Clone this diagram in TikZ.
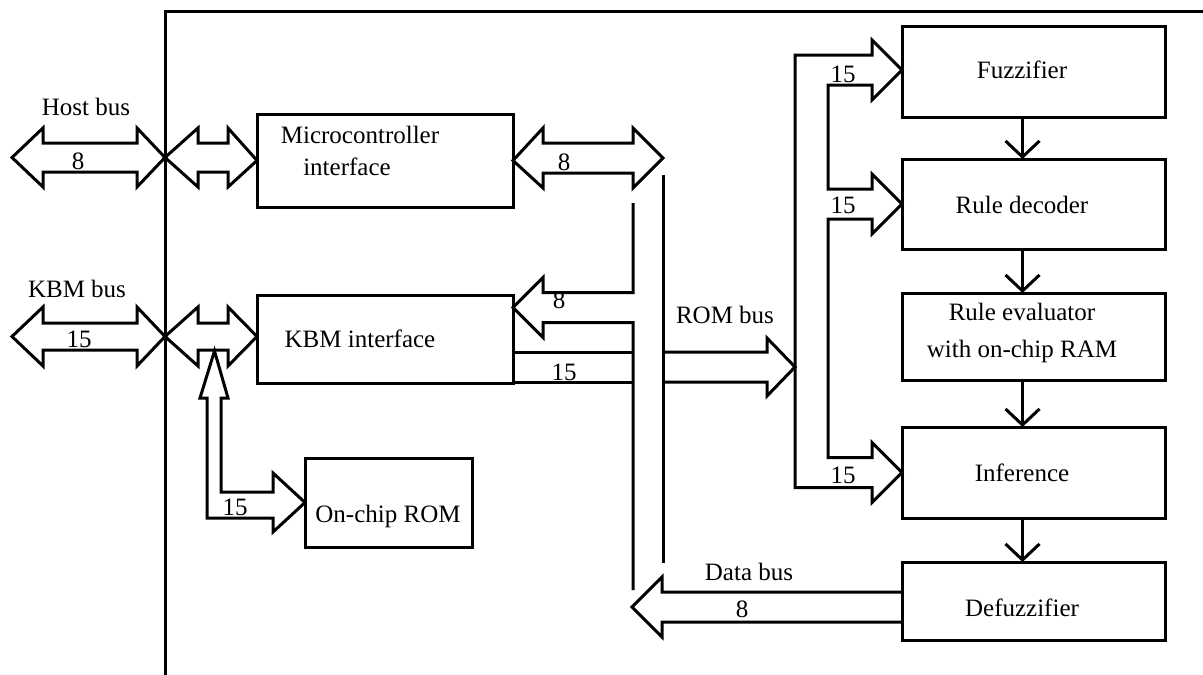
\documentclass[tikz,border=0pt]{standalone}
\usepackage{fontspec}
\setmainfont{Liberation Serif}
\usetikzlibrary{arrows.meta}
\begin{document}
\begin{tikzpicture}[x=1pt,y=-1pt, line width=3pt, line join=miter,
  box/.style={draw, line width=3pt, inner sep=0pt, outer sep=0pt},
  txt/.style={font=\fontsize{25}{29}\selectfont, anchor=base, inner sep=0pt},
  bus/.style={line width=3pt, line join=miter},
  down/.style={line width=3pt, -{Straight Barb[length=16pt,width=34pt]}}]
\useasboundingbox (0,0) rectangle (1203,675);

% frame lines
\draw[bus] (165,675) -- (165,11) -- (1203,11);

% boxes
\node[box, minimum width=256pt, minimum height=93pt] (mcu) at (385,160.5) {};
\node[box, minimum width=256pt, minimum height=88pt] (kbm) at (385,339) {};
\node[box, minimum width=167pt, minimum height=89pt] (rom) at (388.5,502.5) {};
\node[box, minimum width=263pt, minimum height=91pt] (fuzz) at (1033.5,71.5) {};
\node[box, minimum width=263pt, minimum height=90pt] (dec) at (1033.5,204) {};
\node[box, minimum width=263pt, minimum height=87pt] (eval) at (1033.5,336.5) {};
\node[box, minimum width=263pt, minimum height=91pt] (inf) at (1033.5,472.5) {};
\node[box, minimum width=263pt, minimum height=78pt] (defz) at (1033.5,601) {};

% box texts
\node[txt] (tmcu1) at (360,143) {Microcontroller};
\node[txt] (tmcu2) at (347,175) {interface};
\node[txt] (tkbm) at (360,347) {KBM interface};
\node[txt] (trom) at (388,522) {On-chip ROM};
\node[txt] (tfuzz) at (1022,78) {Fuzzifier};
\node[txt] (tdec) at (1022,213) {Rule decoder};
\node[txt] (teval1) at (1022,320) {Rule evaluator};
\node[txt] (teval2) at (1022,357) {with on-chip RAM};
\node[txt] (tinf) at (1022,481) {Inference};
\node[txt] (tdefz) at (1022,616) {Defuzzifier};

% down arrows
\draw[down] ([xshift=-11pt]fuzz.south) -- ([xshift=-11pt]dec.north);
\draw[down] ([xshift=-11pt]dec.south) -- ([xshift=-11pt]eval.north);
\draw[down] ([xshift=-11pt]eval.south) -- ([xshift=-11pt]inf.north);
\draw[down] ([xshift=-11pt]inf.south) -- ([xshift=-11pt]defz.north);

% Host bus
\draw[bus] (12,157.5) -- (43,128) -- (43,143) -- (137,143) -- (137,128) -- (165,157.5)
  -- (137,187) -- (137,172) -- (43,172) -- (43,187) -- cycle;
\draw[bus] (165,157.5) -- (198,128) -- (198,143) -- (228,143) -- (228,128) -- (mcu.west)
  -- (228,187) -- (228,172) -- (198,172) -- (198,187) -- cycle;
\node[txt] (lhost) at (86,115) {Host bus};
\node[txt] (lhost8) at (78,169) {8};

% KBM bus
\draw[bus] (12,336.5) -- (43,307) -- (43,323) -- (137,323) -- (137,307) -- (165,336.5)
  -- (137,366) -- (137,350) -- (43,350) -- (43,366) -- cycle;
\draw[bus] (165,336.5) -- (198,307) -- (198,323) -- (228,323) -- (228,307) -- (257,336.5)
  -- (228,366) -- (228,350) -- (198,350) -- (198,366) -- cycle;
\node[txt] (lkbm) at (77,297) {KBM bus};
\node[txt] (lkbm15) at (79,347) {15};

% On-chip ROM link
\draw[bus] (214.5,351) -- (228,398) -- (221,398) -- (221,492) -- (273,492) -- (273,473)
  -- (rom.west) -- (273,532) -- (273,518) -- (207,518) -- (207,398) -- (200,398) -- cycle;
\node[txt] (lrom15) at (235,515) {15};

% MCU 8 bus
\draw[bus] (mcu.east) -- (543,128) -- (543,143) -- (633,143) -- (633,128) -- (663,158)
  -- (633,188) -- (633,173) -- (543,173) -- (543,188) -- cycle;
\node[txt] (lmcu8) at (564,170) {8};

% vertical bus lines
\draw[bus] (663,175) -- (663,563);
\draw[bus] (633,203) -- (633,292.5) -- (543,292.5) -- (543,277.5) -- (513,307.5)
  -- (543,337.5) -- (543,322.5) -- (633,322.5) -- (633,590);
\node[txt] (lkbm8) at (559,308) {8};

% ROM bus
\draw[bus] (513,352) -- (633,352);
\draw[bus] (513,382) -- (633,382);
\draw[bus] (663,352) -- (767,352) -- (767,338) -- (795,367) -- (767,396) -- (767,382) -- (663,382);
\node[txt] (lrom15b) at (564,380) {15};
\node[txt] (lrombus) at (725,323) {ROM bus};

% distribution to right boxes
\draw[bus] (872,487.5) -- (795,487.5) -- (795,55) -- (872,55) -- (872,40) -- (902,70)
  -- (872,100) -- (872,85) -- (828,85) -- (828,189) -- (872,189) -- (872,174) -- (902,204)
  -- (872,234) -- (872,219) -- (828,219) -- (828,457.5) -- (872,457.5) -- (872,442.5)
  -- (902,472.5) -- (872,502.5) -- cycle;
\node[txt] (lf15) at (843,82) {15};
\node[txt] (ld15) at (843,213) {15};
\node[txt] (li15) at (843,483) {15};

% Data bus
\draw[bus] (defz.west |- 0,592) -- (662,592) -- (662,577) -- (632,607) -- (662,637) -- (662,622) -- (defz.west |- 0,622);
\node[txt] (ldata) at (749,580) {Data bus};
\node[txt] (ldata8) at (742,617) {8};
\end{tikzpicture}
\end{document}
